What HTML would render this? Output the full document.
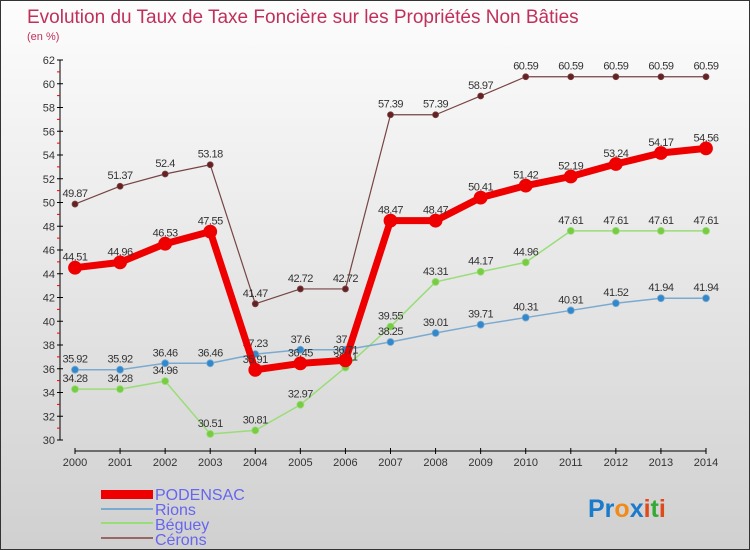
<!DOCTYPE html>
<html><head><meta charset="utf-8"><style>
body{margin:0}
#c{width:748px;height:548px;border:1px solid #333;background:linear-gradient(#fdfdfd,#d0d0d0);position:relative;font-family:"Liberation Sans",sans-serif;overflow:hidden}
svg text{font-family:"Liberation Sans",sans-serif}
</style></head><body>
<div id="c">
<svg id="s" width="748" height="548">
<text x="26" y="22" font-size="19" fill="#c0305a">Evolution du Taux de Taxe Foncière sur les Propriétés Non Bâties</text>
<text x="26" y="39" font-size="11" fill="#c0305a">(en %)</text>
<g id="ax"></g><g id="ser"></g>
<g>
<rect x="100" y="489" width="52" height="9" fill="#e00"/>
<text x="154" y="499" font-size="16" fill="#6666ee">PODENSAC</text>
<rect x="100" y="507" width="52" height="2" fill="#7aaad0"/>
<text x="154" y="514" font-size="16" fill="#6666ee">Rions</text>
<rect x="100" y="521" width="52" height="2" fill="#99dd77"/>
<text x="154" y="529" font-size="16" fill="#6666ee">Béguey</text>
<rect x="100" y="536" width="52" height="2" fill="#996666"/>
<text x="154" y="544" font-size="16" fill="#6666ee">Cérons</text>
</g>
<text x="587" y="516" font-size="25" font-weight="bold"><tspan fill="#1a7acc">Pr</tspan><tspan fill="#f08a1a">o</tspan><tspan fill="#1a7acc">x</tspan><tspan fill="#e0491a">i</tspan><tspan fill="#33aa33">t</tspan><tspan fill="#e0491a">i</tspan></text>
</svg></div>
<script>
const years=[2000,2001,2002,2003,2004,2005,2006,2007,2008,2009,2010,2011,2012,2013,2014];
const yTicks=[30,32,34,36,38,40,42,44,46,48,50,52,54,56,58,60,62];
const podensac=[44.51,44.96,46.53,47.55,35.91,36.45,36.71,48.47,48.47,50.41,51.42,52.19,53.24,54.17,54.56];
const rions=[35.92,35.92,36.46,36.46,37.23,37.6,37.6,38.25,39.01,39.71,40.31,40.91,41.52,41.94,41.94];
const beguey=[34.28,34.28,34.96,30.51,30.81,32.97,36.11,39.55,43.31,44.17,44.96,47.61,47.61,47.61,47.61];
const cerons=[49.87,51.37,52.4,53.18,41.47,42.72,42.72,57.39,57.39,58.97,60.59,60.59,60.59,60.59,60.59];
const NS="http://www.w3.org/2000/svg";
const X=i=>74+i*(631/14), Y=v=>439-(v-30)*11.875;
function mk(t,a,p){const e=document.createElementNS(NS,t);for(const k in a)e.setAttribute(k,a[k]);p.appendChild(e);return e;}
const ax=document.getElementById('ax');
let l=mk('line',{x1:59,y1:Y(62),x2:59,y2:Y(30),stroke:'#000'},ax);

yTicks.forEach(v=>{mk('line',{x1:56,x2:62,y1:Y(v),y2:Y(v),stroke:'#000'},ax);
if(v<62)mk('line',{x1:56,x2:59,y1:Y(v+1),y2:Y(v+1),stroke:'#e00'},ax);
const t=mk('text',{x:54,y:Y(v)+4,'font-size':11,fill:'#333','text-anchor':'end'},ax);t.textContent=v;
});
l=mk('line',{x1:X(0),y1:450,x2:X(14),y2:450,stroke:'#000'},ax);

years.forEach((y,i)=>{mk('line',{x1:X(i),x2:X(i),y1:447,y2:453,stroke:'#000'},ax);
const t=mk('text',{x:X(i),y:465,'font-size':11,fill:'#333','text-anchor':'middle'},ax);t.textContent=y;
});
const ser=document.getElementById('ser');
function draw(name,vals,col,dot,w,r){
const g=mk('g',{},ser);

mk('polyline',{points:vals.map((v,i)=>X(i)+','+Y(v)).join(' '),fill:'none',stroke:col,'stroke-width':w,'stroke-linejoin':'round'},g);
vals.forEach((v,i)=>{const c=mk('circle',{cx:X(i),cy:Y(v),r:r,fill:dot,stroke:col,'stroke-width':0.8},g);

const t=mk('text',{x:X(i),y:Y(v)-7,'font-size':11,fill:'#333','text-anchor':'middle','letter-spacing':'-0.5'},g);t.textContent=v;
});}
draw('beguey',beguey,'#99dd77','#77cc44',1.5,3.5);
draw('rions',rions,'#7aaad0','#3388cc',1.5,3.5);
draw('cerons',cerons,'#774444','#662222',1.2,3);
draw('podensac',podensac,'#ee0000','#ee0000',7,6.5);
</script>
</body></html>
